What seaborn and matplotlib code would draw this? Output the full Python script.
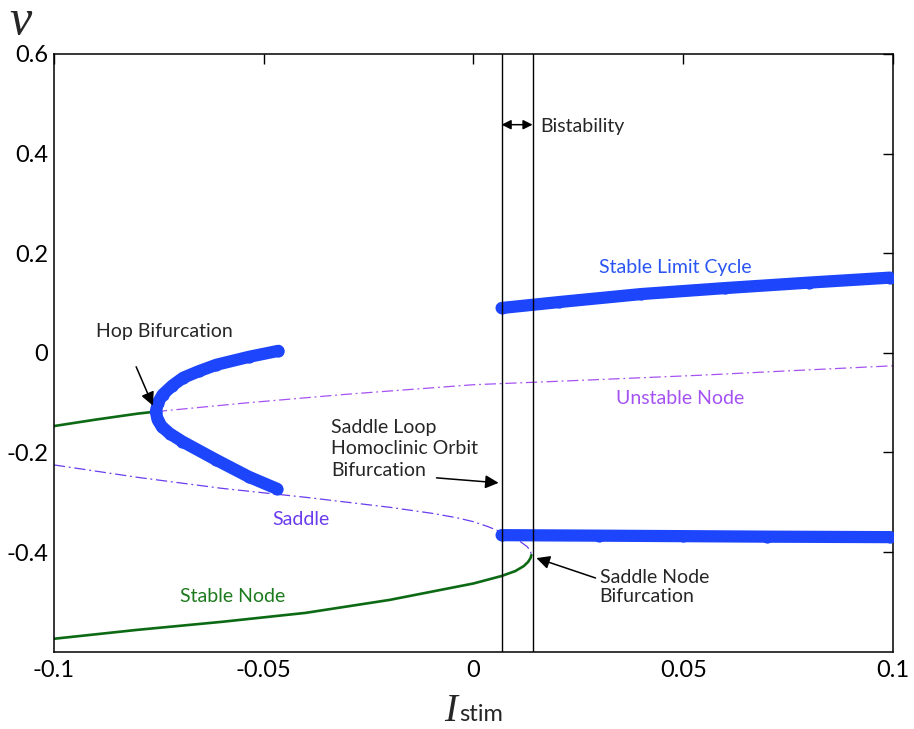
import numpy as np
import pandas as pd
import matplotlib
matplotlib.use("Agg")
import matplotlib.pyplot as plt
import seaborn as sns

# Branches of the bifurcation diagram (I_stim, v)
stable_node_hi_I = [-0.1, -0.09, -0.08, -0.0757]
stable_node_hi_v = [-0.147, -0.134, -0.122, -0.118]

stable_node_lo_I = [-0.1, -0.08, -0.06, -0.04, -0.02, 0.0, 0.0067, 0.010, 0.012, 0.013, 0.0136, 0.0138]
stable_node_lo_v = [-0.574, -0.556, -0.540, -0.522, -0.496, -0.463, -0.448, -0.438, -0.428, -0.420, -0.412, -0.406]

unstable_node_I = [-0.0757, -0.0535, -0.03, 0.0, 0.0205, 0.054, 0.073, 0.1]
unstable_node_v = [-0.118, -0.100, -0.083, -0.064, -0.057, -0.045, -0.037, -0.026]

saddle_I = [-0.1, -0.08, -0.06, -0.04, -0.02, -0.01, -0.004, 0.0, 0.0035, 0.0067, 0.009, 0.011, 0.0128, 0.0136, 0.0138]
saddle_v = [-0.225, -0.250, -0.272, -0.290, -0.310, -0.322, -0.331, -0.339, -0.349, -0.360, -0.368, -0.378, -0.389, -0.398, -0.406]

hopf_cycle_I = [-0.0465, -0.0535, -0.0613, -0.0655, -0.0692, -0.0718, -0.0741, -0.0752, -0.0757,
                -0.0753, -0.0743, -0.0724, -0.0694, -0.0613, -0.0535, -0.0468]
hopf_cycle_v = [0.004, -0.008, -0.024, -0.037, -0.050, -0.066, -0.084, -0.100, -0.118,
                -0.134, -0.148, -0.162, -0.178, -0.215, -0.249, -0.273]

cycle_max_I = [0.0067, 0.0205, 0.04, 0.06, 0.08, 0.0993]
cycle_max_v = [0.090, 0.102, 0.118, 0.130, 0.141, 0.151]

cycle_min_I = [0.0067, 0.03, 0.05, 0.07, 0.0993]
cycle_min_v = [-0.366, -0.367, -0.368, -0.369, -0.370]

homoclinic_I = 0.0067
saddle_node_I = 0.0141

x_ticks = [-0.1, -0.05, 0, 0.05, 0.1]
x_tick_labels = ["-0.1", "-0.05", "0", "0.05", "0.1"]
y_ticks = [-0.4, -0.2, 0, 0.2, 0.4, 0.6]
y_tick_labels = ["-0.4", "-0.2", "0", "0.2", "0.4", "0.6"]

sns.set_theme(style="white")
plt.rcParams["font.family"] = ["Lato", "DejaVu Sans"]
plt.rcParams["xtick.direction"] = "in"
plt.rcParams["ytick.direction"] = "in"

GREEN = "#0d6a14"
UNSTABLE = "#a552f2"
SADDLE = "#6a3cee"
CYCLE = "#1c45fc"

fig = plt.figure(figsize=(9.14, 7.29), dpi=100)
ax = fig.add_axes([0.059, 0.106, 0.918, 0.820])

def frame(I, v):
    return pd.DataFrame({"I": I, "v": v})

sns.lineplot(data=frame(stable_node_hi_I, stable_node_hi_v), x="I", y="v",
             sort=False, estimator=None, color=GREEN, lw=1.9, ax=ax)
sns.lineplot(data=frame(stable_node_lo_I, stable_node_lo_v), x="I", y="v",
             sort=False, estimator=None, color=GREEN, lw=1.9, ax=ax)
l1 = sns.lineplot(data=frame(unstable_node_I, unstable_node_v), x="I", y="v",
                  sort=False, estimator=None, color=UNSTABLE, lw=0.9, ax=ax).lines[-1]
l1.set_dashes((9, 3, 1.5, 3))
l2 = sns.lineplot(data=frame(saddle_I, saddle_v), x="I", y="v",
                  sort=False, estimator=None, color=SADDLE, lw=0.9, ax=ax).lines[-1]
l2.set_dashes((9, 3, 1.5, 3))

for I, v in [(hopf_cycle_I, hopf_cycle_v), (cycle_max_I, cycle_max_v),
             (cycle_min_I, cycle_min_v)]:
    ln = sns.lineplot(data=frame(I, v), x="I", y="v", sort=False, estimator=None,
                      color=CYCLE, lw=8.8, marker="o", markersize=8.8,
                      markeredgewidth=0, ax=ax).lines[-1]
    ln.set_solid_capstyle("round")
    ln.set_solid_joinstyle("round")
    ln.set_zorder(3)

ax.axvline(homoclinic_I, color="black", lw=1.0, zorder=4)
ax.axvline(saddle_node_I, color="black", lw=1.0, zorder=4)

ax.set_xlim(-0.1, 0.1)
ax.set_ylim(-0.6, 0.6)
ax.set_xticks(x_ticks)
ax.set_xticklabels(x_tick_labels)
ax.set_yticks(y_ticks)
ax.set_yticklabels(y_tick_labels)
ax.tick_params(axis="both", which="both", direction="in", length=7, width=1.0,
               labelsize=17, pad=6, top=True, right=True, colors="black")
ax.tick_params(axis="y", pad=4)
for s in ax.spines.values():
    s.set_color("black")
    s.set_linewidth(1.1)
ax.set_xlabel("")
ax.set_ylabel("")

fs = 14
arrow = dict(arrowstyle="-|>", color="black", lw=1.1, mutation_scale=20,
             shrinkA=0, shrinkB=0)

ax.annotate("", xy=(-0.0764, -0.106), xytext=(-0.0804, -0.028), arrowprops=arrow)
ax.text(-0.0737, 0.042, "Hop Bifurcation", fontsize=fs, ha="center", va="center")

ax.annotate("", xy=(homoclinic_I, 0.458), xytext=(saddle_node_I, 0.458),
            arrowprops=dict(arrowstyle="<|-|>", color="black", lw=1.1,
                            mutation_scale=14, shrinkA=0, shrinkB=0))
ax.text(0.0160, 0.454, "Bistability", fontsize=fs, ha="left", va="center")

ax.annotate("", xy=(0.0060, -0.261), xytext=(-0.0088, -0.251), arrowprops=arrow)
ax.text(-0.0339, -0.193, "Saddle Loop\nHomoclinic Orbit\nBifurcation", fontsize=fs,
        ha="left", va="center", linespacing=1.3)

ax.annotate("", xy=(0.0150, -0.412), xytext=(0.0291, -0.452), arrowprops=arrow)
ax.text(0.0301, -0.470, "Saddle Node\nBifurcation", fontsize=fs,
        ha="left", va="center", linespacing=1.2)

ax.text(0.0480, 0.171, "Stable Limit Cycle", fontsize=fs, ha="center", va="center",
        color="#2a55f2")
ax.text(0.0492, -0.092, "Unstable Node", fontsize=fs, ha="center", va="center",
        color=UNSTABLE)
ax.text(-0.0410, -0.335, "Saddle", fontsize=fs, ha="center", va="center",
        color=SADDLE)
ax.text(-0.0573, -0.490, "Stable Node", fontsize=fs, ha="center", va="center",
        color="#1d7a1d")

# axis labels
fig.text(20 / 914, 1 - 22 / 729, "v", fontsize=36, style="italic",
         family=["Liberation Serif"], ha="center", va="center")
fig.text(457 / 914, 1 - 721 / 729, "I", fontsize=28, style="italic",
         family=["Liberation Serif"], ha="right", va="baseline")
fig.text(459 / 914, 1 - 721 / 729, "stim", fontsize=17, ha="left", va="baseline")

fig.savefig("out.png", dpi=100, facecolor="white")
